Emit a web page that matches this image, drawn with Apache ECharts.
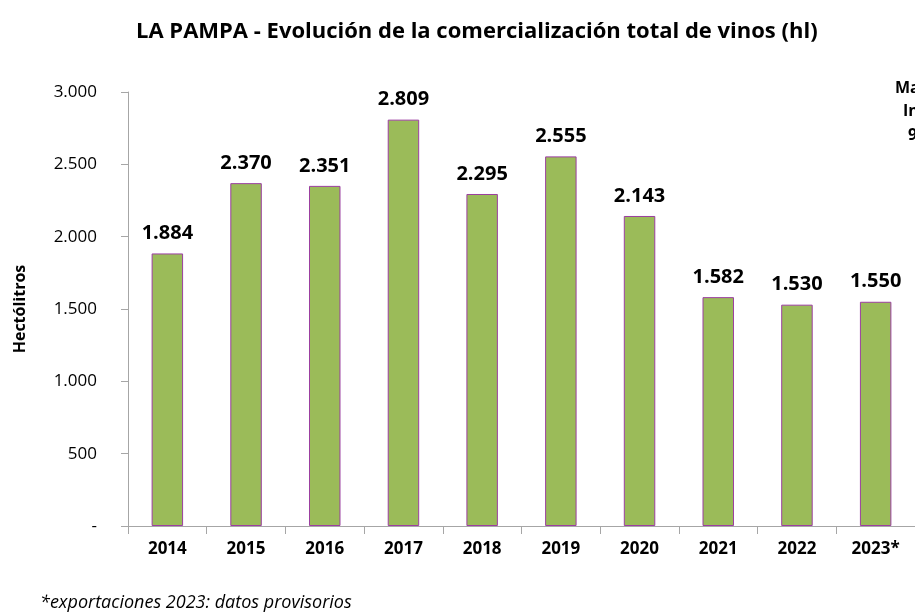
<!DOCTYPE html>
<html>
<head>
<meta charset="utf-8">
<script src="https://cdn.jsdelivr.net/npm/echarts@6/dist/echarts.min.js"></script>
<style>
html, body { margin: 0; padding: 0; background: #fff; }
#main { width: 915px; height: 612px; }
</style>
</head>
<body>
<div id="main"></div>
<script>
var years = ['2014', '2015', '2016', '2017', '2018', '2019', '2020', '2021', '2022', '2023*'];
var volumes = [1884, 2370, 2351, 2809, 2295, 2555, 2143, 1582, 1530, 1550];
var yTicks = [0, 500, 1000, 1500, 2000, 2500, 3000];

var font = '"Open Sans", Lato, sans-serif';

function fmt(v) {
	if (v === 0) return '-';
	return String(v).replace(/\B(?=(\d{3})+(?!\d))/g, '.');
}

var myChart = echarts.init(document.getElementById('main'));
var option = {
	animation: false,
	title: {
		text: 'LA PAMPA - Evolución de la comercialización total de vinos (hl)',
		left: 131,
		top: 16,
		textStyle: { fontFamily: font, fontSize: 22, fontWeight: 'bold', color: '#000' }
	},
	grid: { left: 128, right: -5, top: 92, bottom: 86 },
	xAxis: {
		type: 'category',
		data: years,
		axisLine: { lineStyle: { color: '#a6a6a6', width: 1 } },
		axisTick: { show: true, length: 8, lineStyle: { color: '#a6a6a6' } },
		axisLabel: { fontFamily: font, fontSize: 17, fontWeight: 'bold', color: '#000', margin: 15 }
	},
	yAxis: {
		type: 'value',
		min: yTicks[0],
		max: yTicks[yTicks.length - 1],
		interval: 500,
		name: 'Hectólitros',
		nameLocation: 'middle',
		nameGap: 100,
		nameTextStyle: { fontFamily: font, fontSize: 16, fontWeight: 'bold', color: '#000' },
		axisLine: { show: true, lineStyle: { color: '#a6a6a6' } },
		axisTick: { show: true, length: 7, lineStyle: { color: '#a6a6a6' } },
		splitLine: { show: false },
		axisLabel: {
			fontFamily: font, fontSize: 17, color: '#000', margin: 31,
			formatter: function (v) { return fmt(v); }
		}
	},
	series: [{
		type: 'bar',
		data: volumes,
		barWidth: '40%',
		itemStyle: { color: '#9bbb59', borderColor: '#9b3fa0', borderWidth: 1 },
		label: {
			show: true,
			position: 'top',
			distance: 10,
			fontFamily: font, fontSize: 20, fontWeight: 'bold', color: '#000',
			formatter: function (p) { return fmt(p.value); }
		}
	}],
	graphic: [
		{
			type: 'text', left: 40, top: 594,
			style: { text: '*exportaciones 2023: datos provisorios', fontFamily: font, fontSize: 18, fontStyle: 'italic', fill: '#000' }
		},
		{
			type: 'text', x: 895, y: 80,
			style: { text: 'Ma', fontFamily: font, fontSize: 16, fontWeight: 'bold', fill: '#000' }
		},
		{
			type: 'text', x: 903, y: 103,
			style: { text: 'In', fontFamily: font, fontSize: 16, fontWeight: 'bold', fill: '#000' }
		},
		{
			type: 'text', x: 908, y: 127,
			style: { text: '9', fontFamily: font, fontSize: 16, fontWeight: 'bold', fill: '#000' }
		}
	]
};
myChart.setOption(option);
</script>
</body>
</html>
